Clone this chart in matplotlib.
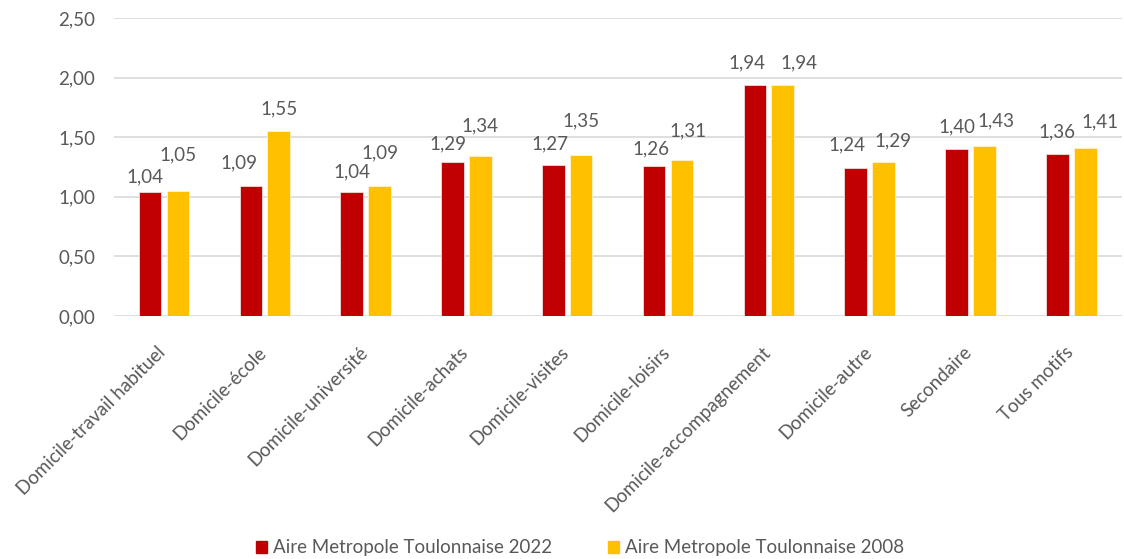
import matplotlib
matplotlib.use("Agg")
import matplotlib.pyplot as plt
import matplotlib.transforms as mtransforms
import numpy as np
from matplotlib.patches import Patch

categories = ["Domicile-travail habituel", "Domicile-école", "Domicile-université",
              "Domicile-achats", "Domicile-visites", "Domicile-loisirs",
              "Domicile-accompagnement", "Domicile-autre", "Secondaire", "Tous motifs"]
values_2022 = [1.04, 1.09, 1.04, 1.29, 1.27, 1.26, 1.94, 1.24, 1.40, 1.36]
values_2008 = [1.05, 1.55, 1.09, 1.34, 1.35, 1.31, 1.94, 1.29, 1.43, 1.41]
series_names = ["Aire Metropole Toulonnaise 2022", "Aire Metropole Toulonnaise 2008"]
y_ticks = [0.0, 0.5, 1.0, 1.5, 2.0, 2.5]

# label placement offsets (pixels from bar top centre), as in the reference layout
label_dy_2022 = [15, 23, 20, 18, 21, 17, 22, 23, 22, 22]
label_dy_2008 = [36, 22, 33, 30, 34, 29, 22, 21, 25, 26]
label_dx_2022 = [-5, -12, 0, -5, -3, -3, -8, -9, 0, 0]
label_dx_2008 = [0, 0, 0, 0, 0, 6, 16, 9, 12, 15]

RED = "#C00000"
YEL = "#FFC000"
TXT = "#595959"
GRID = "#D9D9D9"
FS = 13.5

plt.rcParams['font.family'] = ['Lato', 'DejaVu Sans']

fig = plt.figure(figsize=(11.24, 5.59), dpi=100)
ax = fig.add_axes([0.101, 0.4347, 0.897, 0.5331])

x = np.arange(len(categories))
w = 0.225
off = 0.138
ax.bar(x - off, values_2022, w, color=RED, edgecolor="#F2DCDB", linewidth=0.6, zorder=3)
ax.bar(x + off, values_2008, w, color=YEL, edgecolor="#FFF2CC", linewidth=0.6, zorder=3)

def fmt(v):
    return f"{v:.2f}".replace(".", ",")

PX = 72 / 100
for xi, v, dx, dy in zip(x - off, values_2022, label_dx_2022, label_dy_2022):
    ax.annotate(fmt(v), (xi, v), xytext=(dx * PX, dy * PX), textcoords="offset points",
                ha="center", va="center", fontsize=FS, color=TXT)
for xi, v, dx, dy in zip(x + off, values_2008, label_dx_2008, label_dy_2008):
    ax.annotate(fmt(v), (xi, v), xytext=(dx * PX, dy * PX), textcoords="offset points",
                ha="center", va="center", fontsize=FS, color=TXT)

ax.set_xlim(-0.5, len(categories) - 0.5)
ax.set_ylim(0, 2.5)
ax.set_yticks(y_ticks)
ax.set_yticklabels([fmt(t) for t in y_ticks], fontsize=FS, color=TXT)
ax.set_xticks(x)
ax.set_xticklabels(categories, rotation=45, ha="right", rotation_mode="anchor",
                   fontsize=FS, color=TXT)
ax.tick_params(axis="y", length=0, pad=13)
ax.tick_params(axis="x", length=0, pad=20)
shift = mtransforms.ScaledTranslation(-7 / 100, 0, fig.dpi_scale_trans)
for lbl in ax.get_xticklabels():
    lbl.set_transform(lbl.get_transform() + shift)
ax.yaxis.grid(True, color=GRID, linewidth=1.2, zorder=0)
for s in ax.spines.values():
    s.set_visible(False)

handles = [Patch(facecolor=RED, edgecolor=RED), Patch(facecolor=YEL, edgecolor=YEL)]
fig.legend(handles, series_names, loc="center", bbox_to_anchor=(0.516, 0.02),
           ncol=2, frameon=False, fontsize=FS, handlelength=0.6, handleheight=0.6,
           handletextpad=0.3, columnspacing=3.0, labelcolor=TXT)

fig.savefig("out.png", dpi=100, facecolor="white")
